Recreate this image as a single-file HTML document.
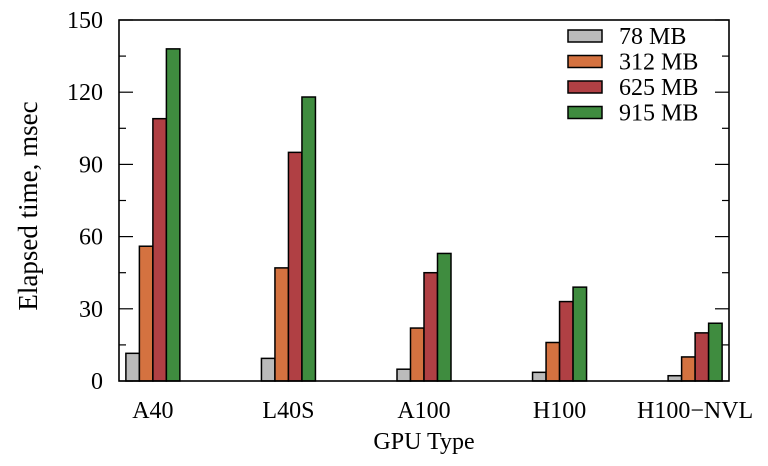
<!DOCTYPE html>
<html><head><meta charset="utf-8"><style>
html,body{margin:0;padding:0;background:#fff;}
svg{display:block;font-family:"Liberation Serif",serif;}
</style></head><body>
<svg id="chart" width="768" height="466" viewBox="0 0 768 466">
<g id="ticks"></g><g id="bars"></g><g id="legend"></g>
<rect x="119" y="20" width="610" height="361" fill="none" stroke="#000" stroke-width="1.6"/>
<text x="37" y="206" transform="rotate(-90 37 206)" text-anchor="middle" font-size="27">Elapsed time, msec</text>
<text x="424" y="449" text-anchor="middle" font-size="24">GPU Type</text>
</svg>
<script>
const categories = ["A40","L40S","A100","H100","H100\u2212NVL"];
const seriesNames = ["78 MB","312 MB","625 MB","915 MB"];
const s78 = [11.5, 9.4, 4.9, 3.6, 2.2];
const s312 = [56, 47, 22, 16, 10];
const s625 = [109, 95, 45, 33, 20];
const s915 = [138, 118, 53, 39, 24];
const yTicks = [0,30,60,90,120,150];
const colors = ["#bbbbbb","#d47240","#b04044","#3f8c3f"];
const series = [s78,s312,s625,s915];
const NS="http://www.w3.org/2000/svg";
const L=119,R=729,T=20,B=381,yMax=150;
const y=v=>B-(v/yMax)*(B-T);
const xC=i=>L+(i+0.25)*(R-L)/4.5;
const bw=13.5;
const tk=document.getElementById('ticks');
for(let v=0;v<=yMax;v+=15){
  const major=v%30===0;
  const l=document.createElementNS(NS,'line');
  l.setAttribute('x1',L);l.setAttribute('x2',L+(major?14:7));
  l.setAttribute('y1',y(v));l.setAttribute('y2',y(v));
  l.setAttribute('stroke','#000');l.setAttribute('stroke-width','1.2');
  
  
  tk.appendChild(l);
  const r=document.createElementNS(NS,'line');
  r.setAttribute('x1',R);r.setAttribute('x2',R-(major?14:7));
  r.setAttribute('y1',y(v));r.setAttribute('y2',y(v));
  r.setAttribute('stroke','#000');r.setAttribute('stroke-width','1.2');
  
  
  tk.appendChild(r);
}
yTicks.forEach(v=>{
  const t=document.createElementNS(NS,'text');
  t.setAttribute('x',L-16);t.setAttribute('y',y(v)+8);
  t.setAttribute('text-anchor','end');t.setAttribute('font-size','24');
  t.textContent=v;
  
  
  tk.appendChild(t);
});
categories.forEach((c,i)=>{
  const t=document.createElementNS(NS,'text');
  t.setAttribute('x',xC(i));t.setAttribute('y',418);
  t.setAttribute('text-anchor','middle');t.setAttribute('font-size','24');
  t.textContent=c;
  
  
  tk.appendChild(t);
});
const bg=document.getElementById('bars');
series.forEach((s,k)=>{
  s.forEach((v,i)=>{
    const r=document.createElementNS(NS,'rect');
    r.setAttribute('x',xC(i)-2*bw+k*bw);r.setAttribute('width',bw);
    r.setAttribute('y',y(v));r.setAttribute('height',B-y(v));
    r.setAttribute('fill',colors[k]);r.setAttribute('stroke','#000');r.setAttribute('stroke-width','1.5');
    
    
    bg.appendChild(r);
  });
});
const lg=document.getElementById('legend');
seriesNames.forEach((n,k)=>{
  const yy=36+k*25.5;
  const r=document.createElementNS(NS,'rect');
  r.setAttribute('x',568);r.setAttribute('y',yy-6);r.setAttribute('width',34);r.setAttribute('height',12);
  r.setAttribute('fill',colors[k]);r.setAttribute('stroke','#000');r.setAttribute('stroke-width','1.5');
  
  
  lg.appendChild(r);
  const t=document.createElementNS(NS,'text');
  t.setAttribute('x',619);t.setAttribute('y',yy+8);t.setAttribute('font-size','24');
  t.textContent=n;
  
  
  lg.appendChild(t);
});
</script>
</body></html>
